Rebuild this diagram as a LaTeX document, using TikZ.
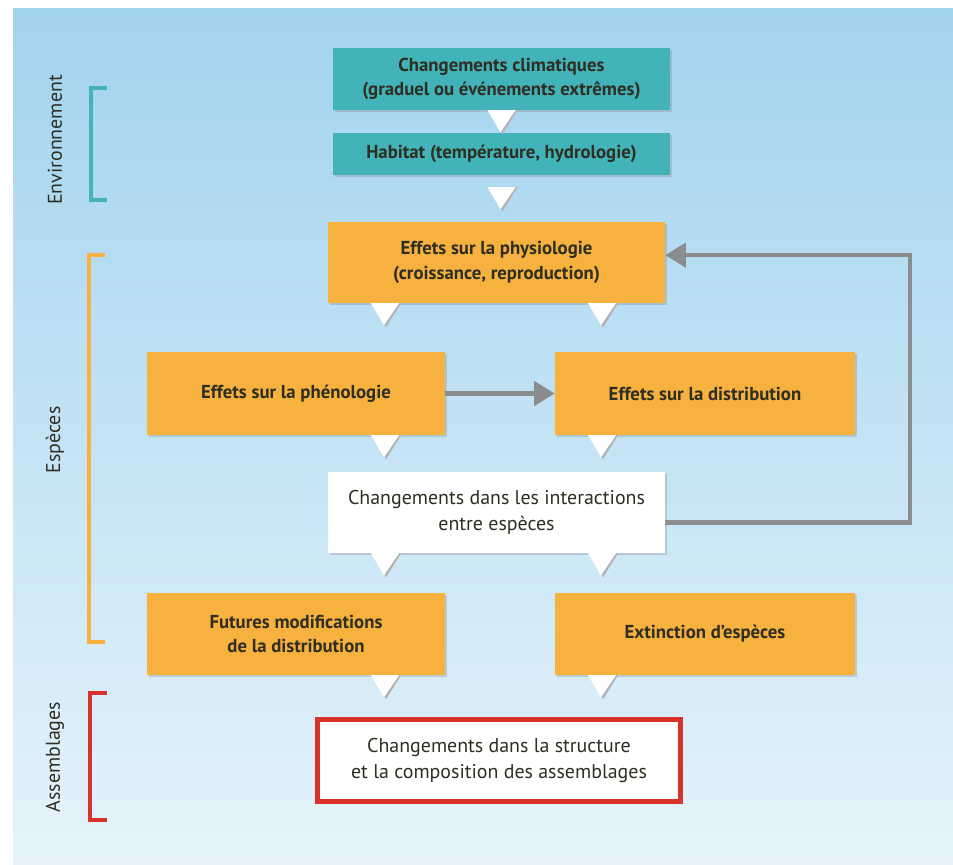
\documentclass[tikz,border=0pt]{standalone}
\usepackage{fontspec}
\setmainfont{PT Sans}
\usepackage{tikz}
\usetikzlibrary{arrows.meta,shadows,positioning}

\definecolor{bgtop}{HTML}{A2D3EE}
\definecolor{bgbot}{HTML}{E6F3FB}
\definecolor{envteal}{HTML}{42B3B8}
\definecolor{spporange}{HTML}{F7B13E}
\definecolor{asmred}{HTML}{D8322A}
\definecolor{linkgray}{HTML}{8A8C8E}
\definecolor{txt}{HTML}{2E2E22}

\tikzset{
  box/.style={rectangle, inner sep=0pt, align=center, text=txt,
    font=\fontsize{17}{22}\selectfont,
    drop shadow={shadow xshift=0.07cm, shadow yshift=-0.07cm, opacity=0.3}},
  envbox/.style={box, fill=envteal, font=\fontsize{16}{21}\selectfont\bfseries},
  sppbox/.style={box, fill=spporange, font=\fontsize{16}{21}\selectfont\bfseries},
  whitebox/.style={box, fill=white},
  feedback/.style={draw=linkgray, line width=0.13cm,
    -{Triangle[length=0.62cm, width=0.72cm]}},
  bracket/.style={line width=0.12cm},
  side/.style={rotate=90, text=txt, font=\fontsize{17}{19}\selectfont},
  downtri/.pic={
    \fill[black!30] (-12,0) -- (16,0) -- (1,24) -- cycle;
    \fill[white] (-14,0) -- (14,0) -- (-1,22) -- cycle;
  }
}

\begin{document}
\begin{tikzpicture}
      [x=0.03cm, y=-0.03cm]
      \useasboundingbox (0,0) rectangle (953,864);
      \fill[white] (0,0) rectangle (953,864);
      \shade[top color=bgtop, bottom color=bgbot] (13,8) rectangle (953,864);

      \node [envbox, minimum width=10.11cm, minimum height=1.86cm] (clim)    at (501.5, 79)
        {Changements climatiques\\(graduel ou événements extrêmes)};
      \node [envbox, minimum width=10.11cm, minimum height=1.26cm] (habitat) at (501.5,154)
        {Habitat (température, hydrologie)};
      \node [sppbox, minimum width=10.11cm, minimum height=2.43cm] (physio)  at (496.5,262.5)
        {Effets sur la physiologie\\(croissance, reproduction)};
      \node [sppbox, minimum width=8.94cm, minimum height=2.49cm]  (pheno)   at (296,393.5)
        {Effets sur la phénologie};
      \node [sppbox, minimum width=9cm, minimum height=2.49cm]     (distrib) at (705,393.5)
        {Effets sur la distribution};
      \node [whitebox, minimum width=10.11cm, minimum height=2.43cm] (inter) at (496.5,512.5)
        {Changements dans les interactions\\entre espèces};
      \node [sppbox, minimum width=8.94cm, minimum height=2.46cm]  (futur)   at (296,634)
        {Futures modifications\\de la distribution};
      \node [sppbox, minimum width=9cm, minimum height=2.46cm]     (extinct) at (705,634)
        {Extinction d’espèces};
      \node [whitebox, draw=asmred, line width=0.15cm, minimum width=10.9cm, minimum height=2.45cm] (assemb) at (499,760.5)
        {Changements dans la structure\\et la composition des assemblages};

      \coordinate (lcol) at (385,0);
      \coordinate (rcol) at (602,0);
      \coordinate (loop) at (910,0);
      \coordinate (fbin) at ([yshift=0.22cm]physio.east);
      \coordinate (fbout) at ([yshift=-0.3cm]inter.east);

      \pic at (clim.south) {downtri};
      \pic [yshift=-0.36cm] at (habitat.south) {downtri};
      \pic at (physio.south -| lcol) {downtri};
      \pic at (physio.south -| rcol) {downtri};
      \pic at (pheno.south -| lcol) {downtri};
      \pic at (distrib.south -| rcol) {downtri};
      \pic at (inter.south -| lcol) {downtri};
      \pic at (inter.south -| rcol) {downtri};
      \pic at (futur.south -| lcol) {downtri};
      \pic at (extinct.south -| rcol) {downtri};

      \draw [feedback] (pheno.east) to (distrib.west);
      \draw [feedback] (fbout) -| (loop |- fbin) -- (fbin);

      \node [side] (envlab) at (55,140) {Environnement};
      \node [side] (spplab) at (55,440) {Espèces};
      \node [side] (asmlab) at (55,757) {Assemblages};

      \draw [bracket, envteal]   (107,88)  -- (91,88)  -- (91,200) -- (107,200);
      \draw [bracket, spporange] (105,255) -- (89,255) -- (89,642) -- (105,642);
      \draw [bracket, asmred]    (107,693) -- (90,693) -- (90,820) -- (107,820);
    \end{tikzpicture}
\end{document}
